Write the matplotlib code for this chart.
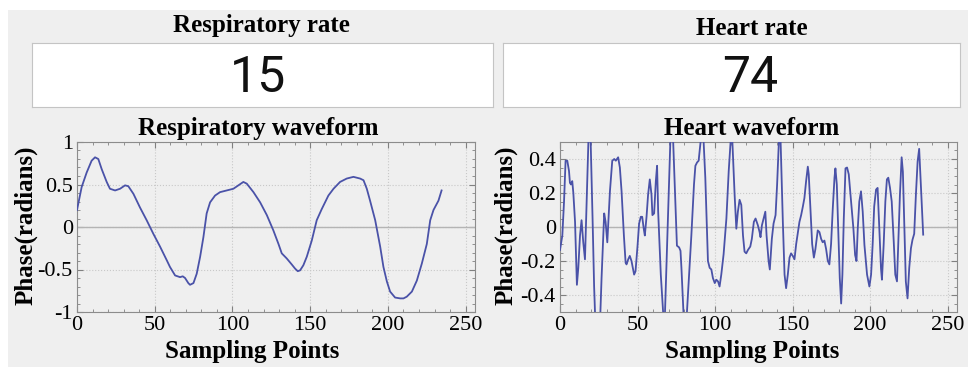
import numpy as np
import matplotlib
matplotlib.use('Agg')
import matplotlib.pyplot as plt
from matplotlib.patches import Rectangle
from matplotlib.ticker import AutoMinorLocator

resp_rate = '15'
heart_rate = '74'

resp_x = [0, 3.0, 6.2, 9.4, 11.6, 13.7, 15.9, 19.1, 21.2, 24.5, 27.7, 30.9, 33.0, 36.3,
          40.5, 44.8, 49.1, 53.4, 57.7, 59.8, 63.1, 66.3, 68.0, 69.5, 71.6, 72.7, 74.9,
          77.0, 79.2, 81.3, 83.4, 85.6, 88.8, 92.0, 96.3, 100.6, 103.8, 107.0, 109.2,
          113.5, 117.8, 122.1, 126.3, 129.6, 131.7, 134.9, 138.1, 140.3, 142.0, 143.5,
          145.6, 147.8, 151.0, 154.2, 157.4, 161.7, 165.0, 169.2, 173.5, 177.8, 182.1,
          184.3, 186.4, 188.5, 191.8, 195.0, 197.1, 199.3, 201.4, 204.6, 207.9, 210.0,
          212.1, 215.4, 218.6, 221.8, 225.0, 227.2, 229.3, 232.5, 234.5]
resp_y = [0.2, 0.47, 0.64, 0.78, 0.82, 0.80, 0.68, 0.53, 0.45, 0.43, 0.45, 0.49, 0.48, 0.39,
          0.23, 0.08, -0.08, -0.23, -0.39, -0.47, -0.57, -0.59, -0.58, -0.60, -0.66, -0.68,
          -0.66, -0.55, -0.35, -0.12, 0.16, 0.29, 0.37, 0.41, 0.43, 0.45, 0.49, 0.53, 0.51,
          0.41, 0.29, 0.14, -0.04, -0.20, -0.31, -0.37, -0.44, -0.49, -0.52, -0.51,
          -0.45, -0.35, -0.16, 0.08, 0.21, 0.37, 0.45, 0.53, 0.57, 0.59, 0.57,
          0.55, 0.45, 0.31, 0.08, -0.23, -0.47, -0.64, -0.76, -0.83, -0.84, -0.84,
          -0.82, -0.76, -0.63, -0.43, -0.20, 0.08, 0.20, 0.31, 0.43]

heart_x = [0, 1.5, 2.6, 3.6, 4.7, 5.8, 6.4, 7.1, 7.9, 8.6, 9.7, 10.9, 11.8, 12.9, 13.9, 15.0,
           16.1, 17.2, 19.1, 21.0, 22.0, 23.5, 25.3, 26.8, 28.5, 29.4, 30.5, 32.2, 33.7,
           35.0, 36.0, 37.5, 38.6, 39.7, 41.2, 42.3, 42.9, 44.0, 45.0, 46.1, 47.8, 48.7,
           50.0, 51.0, 52.1, 53.0, 54.0, 54.7, 55.8, 56.8, 57.9, 59.0, 59.6, 60.7, 61.8,
           62.6, 63.3, 65.0, 67.3, 72.0, 75.4, 76.8, 77.7, 78.3, 80.6, 84.7, 86.4, 87.3,
           88.4, 89.4, 92.0, 93.7, 95.4, 96.5, 97.6, 98.6, 99.8, 100.8, 101.9, 102.9,
           104.0, 105.5, 107.3, 108.8, 110.7, 112.6, 113.7, 114.7, 115.8, 116.9, 118.0,
           119.0, 120.1, 121.2, 122.7, 123.7, 125.0, 126.1, 127.6, 128.7, 129.3, 130.2,
           131.3, 132.4, 133.2, 134.5, 135.3, 136.6, 137.7, 139.0, 140.0, 141.8, 143.7,
           144.8, 145.8, 146.9, 148.0, 149.0, 150.1, 151.2, 152.3, 153.4, 154.4, 155.5,
           156.6, 157.6, 158.7, 159.8, 160.4, 161.5, 162.6, 163.7, 164.7, 166.2, 167.3,
           168.4, 169.4, 170.5, 171.6, 172.7, 173.7, 174.8, 175.9, 177.0, 177.6, 178.5,
           179.5, 180.4, 181.3, 182.1, 183.0, 184.1, 185.1, 186.2, 187.7, 189.2, 190.3,
           191.2, 192.0, 193.0, 194.1, 195.2, 196.3, 198.0, 199.5, 200.6, 201.6, 202.6,
           203.8, 204.8, 205.9, 207.0, 207.6, 208.7, 209.8, 210.8, 211.7, 212.8, 213.9,
           215.2, 216.2, 217.3, 218.1, 219.2, 220.3, 221.1, 221.9, 223.0, 224.1, 225.2,
           226.3, 227.3, 228.4, 229.5, 230.6, 231.6, 232.7, 234.2]
heart_y = [-0.135, -0.05, 0.15, 0.39, 0.39, 0.33, 0.26, 0.25, 0.27, 0.2, 0.03, -0.34, -0.24,
           -0.05, 0.04, -0.09, -0.19, 0.15, 0.75, 0.05, -0.35, -0.75, -0.7, -0.3, 0.08, 0.03,
           -0.09, 0.21, 0.39, 0.40, 0.39, 0.41, 0.35, 0.21, -0.05, -0.21, -0.22, -0.19,
           -0.17, -0.20, -0.28, -0.26, -0.11, 0.02, 0.06, 0.06, -0.01, -0.05, 0.06, 0.19,
           0.28, 0.19, 0.07, 0.08, 0.27, 0.36, 0.09, -0.28, -0.62, 0.75, -0.11, -0.12,
           -0.14, -0.24, -0.7, -0.05, 0.25, 0.36, 0.38, 0.39, 0.62, 0.29, -0.2, -0.24,
           -0.25, -0.30, -0.33, -0.31, -0.32, -0.35, -0.28, -0.16, 0.05, 0.33, 0.6, 0.19,
           -0.01, 0.09, 0.16, 0.13, -0.05, -0.145, -0.155, -0.135, -0.115, -0.07, 0.03,
           0.05, 0.01, -0.03, -0.06, 0.01, 0.05, 0.09, -0.05, -0.20, -0.25, -0.07, 0.02,
           0.07, 0.25, 0.65, 0.03, -0.28, -0.36, -0.28, -0.18, -0.155, -0.17, -0.19, -0.10,
           -0.03, 0.03, 0.07, 0.12, 0.17, 0.27, 0.355, 0.31, 0.11, -0.10, -0.18, -0.13,
           -0.02, -0.03, -0.07, -0.09, -0.08, -0.13, -0.20, -0.22, -0.10, 0.11, 0.29,
           0.345, 0.25, -0.05, -0.30, -0.45, -0.28, 0.05, 0.345, 0.35, 0.31, 0.15, -0.01,
           -0.165, -0.20, -0.01, 0.15, 0.21, 0.09, -0.105, -0.28, -0.35, -0.28, -0.105,
           0.12, 0.22, 0.23, -0.01, -0.245, -0.31, -0.105, 0.15, 0.28, 0.29, 0.23, 0.15,
           -0.085, -0.28, -0.32, -0.105, 0.19, 0.41, 0.325, 0.05, -0.32, -0.42, -0.24,
           -0.125, -0.075, -0.04, 0.19, 0.385, 0.46, 0.25, -0.045]

x_ticks = [0, 50, 100, 150, 200, 250]
resp_ticks = [-1, -0.5, 0, 0.5, 1]
resp_labels = ['-1', '-0.5', '0', '0.5', '1']
heart_ticks = [-0.4, -0.2, 0, 0.2, 0.4]
heart_labels = ['-0.4', '-0.2', '0', '0.2', '0.4']

W, H = 968, 367
bg = '#efefef'
line_c = '#4a52a8'
serif = ['Liberation Serif', 'DejaVu Serif']

fig = plt.figure(figsize=(W / 100, H / 100), dpi=100, facecolor='white')
fig.patches.append(Rectangle((8 / W, 0), 1, 1 - 10 / H, transform=fig.transFigure,
                             facecolor=bg, edgecolor='none', zorder=-5))


def fpos(x0, y0, x1, y1):
    # pixel box -> figure fraction
    return [x0 / W, 1 - y1 / H, (x1 - x0) / W, (y1 - y0) / H]


def rate_box(x0, x1, title, tx, ty, value, vx):
    bx = fig.add_axes(fpos(x0, 43, x1, 107))
    bx.set_facecolor('white')
    bx.set_xticks([])
    bx.set_yticks([])
    for s in bx.spines.values():
        s.set_color('#c4c4c4')
    fig.text(tx / W, 1 - ty / H, title, ha='center', va='baseline', fontsize=18,
             fontweight='bold', family=serif)
    fig.text(vx / W, 1 - 78 / H, value, ha='center', va='center', fontsize=36,
             family=['Roboto', 'DejaVu Sans'], color='#111111')


def wave(ax, x, y, ylim, ticks, labels, title, minor_y, title_x, xlab_x, ylab_x):
    ax.set_facecolor(bg)
    ax.plot(x, y, color=line_c, lw=1.3, zorder=3)
    ax.axhline(0, color='#b4b4b4', lw=1.0, zorder=2)
    ax.set_xlim(0, 256)
    ax.set_ylim(*ylim)
    ax.set_xticks(x_ticks)
    ax.set_xticklabels([str(t) for t in x_ticks])
    ax.set_yticks(ticks)
    ax.set_yticklabels(labels)
    ax.xaxis.set_minor_locator(AutoMinorLocator(5))
    ax.yaxis.set_minor_locator(AutoMinorLocator(minor_y))
    ax.grid(True, which='major', ls=':', color='#c8c8c8', lw=0.8)
    ax.tick_params(which='both', direction='in', top=True, right=True, color='#808080',
                   labelsize=16, pad=3)
    ax.tick_params(which='major', length=4)
    ax.tick_params(which='minor', length=2)
    for lab in ax.get_xticklabels() + ax.get_yticklabels():
        lab.set_family(serif)
    for s in ax.spines.values():
        s.set_color('#8c8c8c')
    ax.text(title_x, 1.041, title, transform=ax.transAxes, ha='center', va='baseline',
            fontsize=18, fontweight='bold', family=serif)
    ax.set_xlabel('Sampling Points', fontsize=18, fontweight='bold', family=serif)
    ax.set_ylabel('Phase(radians)', fontsize=18, fontweight='bold', family=serif)
    ax.xaxis.set_label_coords(xlab_x, -0.165)
    ax.yaxis.set_label_coords(ylab_x, 0.51)


rate_box(32, 493, 'Respiratory rate', 261, 32, resp_rate, 258)
rate_box(503, 960, 'Heart rate', 752, 35, heart_rate, 750)

ax1 = fig.add_axes(fpos(77, 142, 475, 312))
wave(ax1, resp_x, resp_y, (-1, 1), resp_ticks, resp_labels, 'Respiratory waveform', 5,
     0.455, 0.44, -0.1)

ax2 = fig.add_axes(fpos(560, 142, 957, 312))
wave(ax2, heart_x, heart_y, (-0.5, 0.5), heart_ticks, heart_labels, 'Heart waveform', 4,
     0.482, 0.484, -0.108)

fig.savefig('out.png', dpi=100, facecolor=fig.get_facecolor())
